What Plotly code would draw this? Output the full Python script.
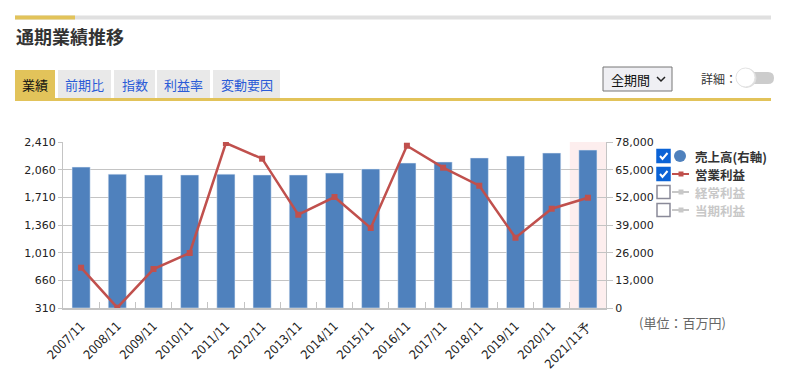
import plotly.graph_objects as go

years = ["2007/11", "2008/11", "2009/11", "2010/11", "2011/11", "2012/11", "2013/11",
         "2014/11", "2015/11", "2016/11", "2017/11", "2018/11", "2019/11", "2020/11", "2021/11予"]
sales = [66200, 62900, 62500, 62500, 62900, 62500, 62500, 63400, 65300, 68100, 68600,
         70500, 71400, 72800, 74200]
op_profit = [820, 314, 803, 1006, 2397, 2199, 1490, 1714, 1322, 2363, 2085, 1857, 1199, 1566, 1705]
left_ticks = [310, 660, 1010, 1360, 1710, 2060, 2410]
right_ticks = [0, 13000, 26000, 39000, 52000, 65000, 78000]
tabs = ["業績", "前期比", "指数", "利益率", "変動要因"]
legend_items = ["売上高(右軸)", "営業利益", "経常利益", "当期利益"]

# page offset (browser body margin)
OFF = 8
W, H = 799 - OFF, 383 - OFF
# plot area in window pixel coordinates
L, R, T, B = 63, 606, 142, 308
BAR = "#4f81bd"
LINE = "#c0504d"
GOLD = "#e2c35a"
FONT = "DejaVu Sans"
AXC = "#c4c4c4"


def px(x):
    return (x - L) / (R - L)


def py(y):
    return (B - y) / (B - T)


fig = go.Figure()
fig.add_trace(go.Bar(x=years, y=sales, marker_color=BAR, width=0.5, yaxis="y",
                     name=legend_items[0]))
fig.add_trace(go.Scatter(x=years, y=op_profit, yaxis="y2", mode="lines+markers",
                         line=dict(color=LINE, width=2.5),
                         marker=dict(symbol="square", size=6, color=LINE),
                         name=legend_items[1]))

shapes = []
annotations = []

# highlight forecast year
shapes.append(dict(type="rect", xref="x", yref="paper", x0=13.5, x1=14.5, y0=0, y1=1,
                   fillcolor="#fdeeee", line_width=0, layer="below"))

# header bar
shapes.append(dict(type="rect", xref="paper", yref="paper", x0=px(15), x1=px(771),
                   y0=py(19.5), y1=py(15.5), fillcolor="#e0e0e0", line_width=0))
shapes.append(dict(type="rect", xref="paper", yref="paper", x0=px(15), x1=px(75),
                   y0=py(19.5), y1=py(15.5), fillcolor=GOLD, line_width=0))
annotations.append(dict(xref="paper", yref="paper", x=px(14), y=py(36), xanchor="left",
                        yanchor="middle", showarrow=False,
                        text="<b>通期業績推移</b>",
                        font=dict(family="Noto Sans CJK JP", size=18, color="#333")))

# tabs
tab_x = [(15, 55), (58, 111), (114, 155), (157, 210), (213, 280)]
for i, (name, (a, b)) in enumerate(zip(tabs, tab_x)):
    shapes.append(dict(type="rect", xref="paper", yref="paper", x0=px(a), x1=px(b),
                       y0=py(98), y1=py(70), fillcolor=GOLD if i == 0 else "#e9e9e9",
                       line_width=0))
    annotations.append(dict(xref="paper", yref="paper", x=px((a + b) / 2), y=py(84),
                            xanchor="center", yanchor="middle", showarrow=False, text=name,
                            font=dict(family="Noto Sans CJK JP", size=13,
                                      color="#111" if i == 0 else "#2a5bd7")))
shapes.append(dict(type="rect", xref="paper", yref="paper", x0=px(15), x1=px(771),
                   y0=py(101), y1=py(98), fillcolor=GOLD, line_width=0))

# dropdown
shapes.append(dict(type="rect", xref="paper", yref="paper", x0=px(603), x1=px(672),
                   y0=py(91), y1=py(67), fillcolor="#efeff3",
                   line=dict(color="#777", width=1)))
annotations.append(dict(xref="paper", yref="paper", x=px(609), y=py(79), xanchor="left",
                        yanchor="middle", showarrow=False, text="全期間",
                        font=dict(family="Noto Sans CJK JP", size=13, color="#111")))
shapes.append(dict(type="path", xref="paper", yref="paper",
                   path=f"M {px(657)} {py(77)} L {px(661)} {py(81)} L {px(665)} {py(77)}",
                   line=dict(color="#222", width=1.5)))
annotations.append(dict(xref="paper", yref="paper", x=px(699), y=py(78), xanchor="left",
                        yanchor="middle", showarrow=False, text="詳細：",
                        font=dict(family="Noto Sans CJK JP", size=12, color="#333")))
shapes.append(dict(type="path", xref="paper", yref="paper",
                   path=(f"M {px(746)} {py(72)} L {px(768)} {py(72)} "
                         f"Q {px(774)} {py(72)} {px(774)} {py(78)} "
                         f"Q {px(774)} {py(84)} {px(768)} {py(84)} "
                         f"L {px(746)} {py(84)} Z"),
                   fillcolor="#cccccc", line_width=0))
shapes.append(dict(type="circle", xref="paper", yref="paper", x0=px(736.5), x1=px(756.5),
                   y0=py(88), y1=py(68), fillcolor="#dddddd", line_width=0))
shapes.append(dict(type="circle", xref="paper", yref="paper", x0=px(736), x1=px(755),
                   y0=py(87), y1=py(68), fillcolor="#ffffff", line=dict(color="#e4e4e4", width=1)))

# custom legend
leg_y = [156, 174, 192, 210]
for i, (name, yy) in enumerate(zip(legend_items, leg_y)):
    checked = i < 2
    shapes.append(dict(type="rect", xref="paper", yref="paper", x0=px(657), x1=px(670),
                       y0=py(yy + 6.5), y1=py(yy - 6.5),
                       fillcolor="#0b63d6" if checked else "#ffffff",
                       line=dict(color="#0b63d6" if checked else "#8a8a99", width=1.5)))
    if checked:
        shapes.append(dict(type="path", xref="paper", yref="paper",
                           path=(f"M {px(660)} {py(yy)} L {px(662.5)} {py(yy + 3)} "
                                 f"L {px(667.5)} {py(yy - 3)}"),
                           line=dict(color="#ffffff", width=2)))
    col = "#333" if checked else "#c8c8c8"
    if i == 0:
        shapes.append(dict(type="circle", xref="paper", yref="paper", x0=px(674), x1=px(686),
                           y0=py(yy + 6), y1=py(yy - 6), fillcolor=BAR, line_width=0))
    else:
        lc = LINE if checked else "#c8c8c8"
        shapes.append(dict(type="line", xref="paper", yref="paper", x0=px(672), x1=px(689),
                           y0=py(yy), y1=py(yy), line=dict(color=lc, width=2)))
        shapes.append(dict(type="rect", xref="paper", yref="paper", x0=px(678.5), x1=px(683.5),
                           y0=py(yy + 2.5), y1=py(yy - 2.5), fillcolor=lc, line_width=0))
    annotations.append(dict(xref="paper", yref="paper", x=px(693), y=py(yy), xanchor="left",
                            yanchor="middle", showarrow=False, text=f"<b>{name}</b>",
                            font=dict(family="Noto Sans CJK JP", size=12.5, color=col)))

annotations.append(dict(xref="paper", yref="paper", x=px(637), y=py(322), xanchor="left",
                        yanchor="middle", showarrow=False, text="(単位：百万円)",
                        font=dict(family="Noto Sans CJK JP", size=13, color="#666")))

fig.update_layout(
    width=W, height=H,
    margin=dict(l=L - OFF, r=W - (R - OFF), t=T - OFF, b=H - (B - OFF), pad=0,
                autoexpand=False),
    paper_bgcolor="#ffffff", plot_bgcolor="rgba(0,0,0,0)",
    showlegend=False,
    bargap=0.5,
    font=dict(family=FONT, size=11, color="#222"),
    xaxis=dict(type="category", range=[-0.5, len(years) - 0.5], ticks="inside",
               tickson="boundaries", ticklen=6, ticklabelstandoff=4,
               tickcolor=AXC, tickangle=-45, showline=True, linecolor=AXC,
               linewidth=1.5, showgrid=False, automargin=False,
               tickfont=dict(family="DejaVu Sans Condensed", size=12.5, color="#222")),
    yaxis=dict(side="right", range=[0, 78000], tickvals=right_ticks,
               ticktext=[f"{v:,}" for v in right_ticks], showgrid=True, gridcolor=AXC,
               gridwidth=1, ticks="outside", ticklen=6, tickcolor=AXC,
               showline=True, linecolor=AXC, zeroline=False, automargin=False,
               tickfont=dict(family=FONT, size=11, color="#222")),
    yaxis2=dict(side="left", overlaying="y", range=[310, 2410], tickvals=left_ticks,
                ticktext=[f"{v:,}" for v in left_ticks], showgrid=False, ticks="outside",
                ticklen=4, tickcolor=AXC, zeroline=False, showline=True, linecolor=AXC,
                automargin=False,
                tickfont=dict(family=FONT, size=11, color="#222")),
    shapes=shapes,
    annotations=annotations,
)

fig.write_html("out.html")
